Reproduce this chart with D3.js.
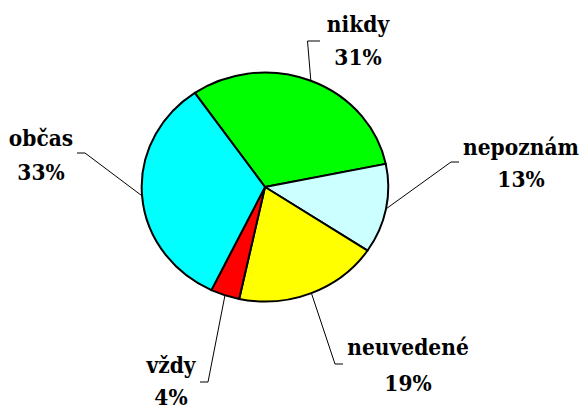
<!DOCTYPE html>
<html><head><meta charset="utf-8">
<script src="https://cdn.jsdelivr.net/npm/d3@7"></script>
<style>html,body{margin:0;padding:0;background:#fff}
.lbl{font-family:"DejaVu Serif",serif;font-weight:bold;font-size:22px;fill:#000}</style>
</head><body><div id="chart"></div>
<script>
const categories = ["nikdy", "nepoznám", "neuvedené", "vždy", "občas"];
const values = [31.4, 12.6, 19.0, 3.8, 33.2];
const pctLabels = ["31%", "13%", "19%", "4%", "33%"];
const colors = ["#00ff00", "#ccffff", "#ffff00", "#ff0000", "#00ffff"];

// layout (label placement, leader elbows)
const layout = [
  {tx: 358, ty: 32, dy: 33, elbow: [307.5, 41], end: [320, 41]},
  {tx: 521, ty: 155, dy: 32, elbow: [451, 162], end: [459, 162]},
  {tx: 408, ty: 355, dy: 36, elbow: [335, 364], end: [343, 364]},
  {tx: 171, ty: 373, dy: 32, elbow: [208, 382], end: [200, 382]},
  {tx: 41, ty: 146, dy: 34, elbow: [85, 153], end: [77, 153]}
];

const W = 584, H = 411;
const cx = 265, cy = 187, rx = 123.3, ry = 114.5;
const startDeg = -34.7;

const svg = d3.select("#chart").append("svg").attr("width", W).attr("height", H);

const pie = d3.pie().sort(null).value(d => d)
  .startAngle(startDeg * Math.PI / 180)
  .endAngle((startDeg + 360) * Math.PI / 180);
const arcs = pie(values);
const arc = d3.arc().innerRadius(0).outerRadius(rx);

const g = svg.append("g").attr("transform", `translate(${cx},${cy}) scale(1,${ry / rx})`);
g.selectAll("path").data(arcs).enter().append("path")
  .attr("d", arc)
  .attr("fill", (d, i) => colors[i])
  .attr("stroke", "#000")
  .attr("stroke-width", 2)
  .attr("stroke-linejoin", "round")
  .attr("vector-effect", "non-scaling-stroke");

// leader lines
arcs.forEach((d, i) => {
  const a = (d.startAngle + d.endAngle) / 2;
  const px = cx + rx * Math.sin(a), py = cy - ry * Math.cos(a);
  const L = layout[i];
  svg.append("polyline")
    .attr("points", [[px, py], L.elbow, L.end].map(p => p.join(",")).join(" "))
    .attr("fill", "none").attr("stroke", "#000").attr("stroke-width", 1);
});

// labels
arcs.forEach((d, i) => {
  const L = layout[i];
  const t = svg.append("g").attr("transform", `translate(${L.tx},${L.ty}) scale(0.92,1)`);
  const txt = t.append("text").attr("class", "lbl").attr("text-anchor", "middle");
  txt.append("tspan").attr("x", 0).attr("y", 0).text(categories[i]);
  txt.append("tspan").attr("x", 0).attr("y", L.dy).text(pctLabels[i]);
});
</script>
</body></html>
